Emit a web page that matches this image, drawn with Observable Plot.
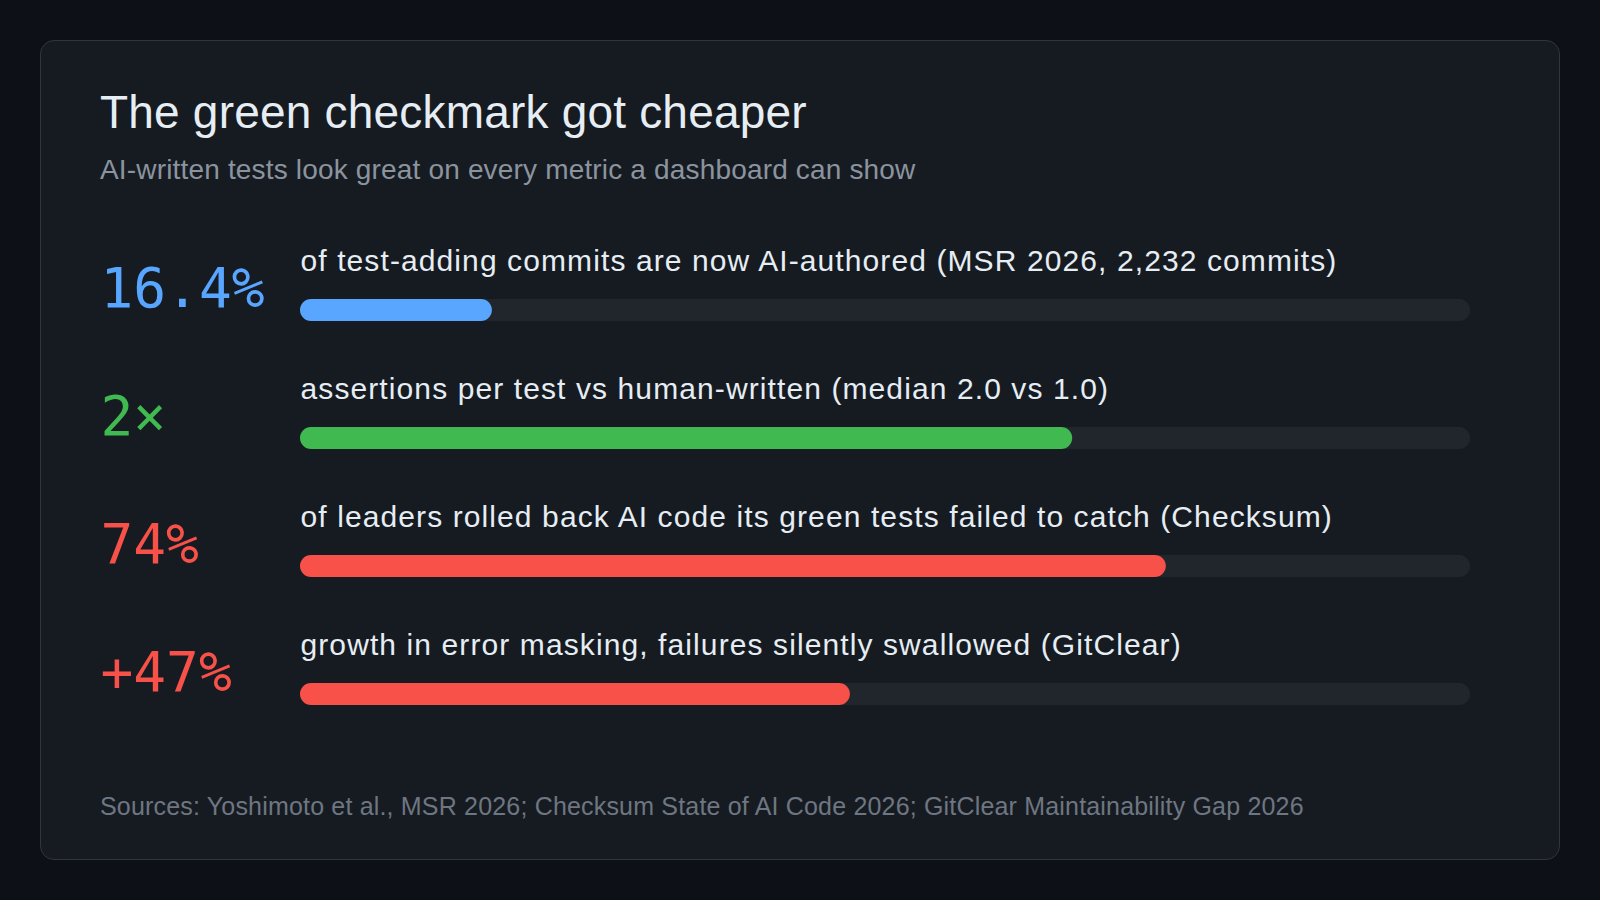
<!DOCTYPE html>
<html>
<head>
<meta charset="utf-8">
<script src="https://cdn.jsdelivr.net/npm/d3@7"></script>
<script src="https://cdn.jsdelivr.net/npm/@observablehq/plot@0.6"></script>
<style>
  html, body { margin: 0; padding: 0; width: 1600px; height: 900px; background: #0d1117; overflow: hidden; }
  body { position: relative; font-family: "Liberation Sans", Arial, Helvetica, sans-serif; }
  #card { position: absolute; left: 40px; top: 40px; width: 1518px; height: 818px; background: #161b22; border: 1.5px solid #30363d; border-radius: 14px; }
  .t { position: absolute; left: 100px; white-space: nowrap; line-height: 1; }
  #title { top: 89px; font-size: 46px; color: #e6edf3; letter-spacing: 0.2px; }
  #subtitle { top: 156px; font-size: 28px; color: #8b949e; letter-spacing: 0.17px; }
  #footer { top: 794px; font-size: 25px; color: #6e7681; letter-spacing: 0.18px; }
  #chart { position: absolute; left: 0; top: 220px; }
</style>
</head>
<body>
<div id="card"></div>
<div class="t" id="title">The green checkmark got cheaper</div>
<div class="t" id="subtitle">AI-written tests look great on every metric a dashboard can show</div>
<div id="chart"></div>
<div class="t" id="footer">Sources: Yoshimoto et al., MSR 2026; Checksum State of AI Code 2026; GitClear Maintainability Gap 2026</div>
<script>
const stats = ["16.4%", "2×", "74%", "+47%"];
const labels = [
  "of test-adding commits are now AI-authored (MSR 2026, 2,232 commits)",
  "assertions per test vs human-written (median 2.0 vs 1.0)",
  "of leaders rolled back AI code its green tests failed to catch (Checksum)",
  "growth in error masking, failures silently swallowed (GitClear)"
];
const fractions = [0.164, 0.66, 0.74, 0.47];
const colors = ["#58a6ff", "#3fb950", "#f85149", "#f85149"];

const rows = stats.map((s, i) => ({key: "r" + i, stat: s, label: labels[i], frac: fractions[i], color: colors[i]}));

const chart = Plot.plot({
  width: 1600,
  height: 538,
  marginLeft: 300,
  marginRight: 130,
  marginTop: 26,
  marginBottom: 0,
  x: {domain: [0, 1], axis: null},
  y: {domain: rows.map(d => d.key), padding: 0, axis: null},
  color: {type: "identity"},
  style: {background: "transparent", overflow: "visible"},
  marks: [
    Plot.barX(rows, {y: "key", x1: 0, x2: 1, fill: "#21262d", rx: 11, insetTop: 53, insetBottom: 53}),
    Plot.barX(rows, {y: "key", x1: 0, x2: "frac", fill: "color", rx: 11, insetTop: 53, insetBottom: 53}),
    Plot.text(rows, {y: "key", text: "stat", fill: "color", frameAnchor: "left", dx: -200, dy: -4, textAnchor: "start", lineAnchor: "bottom", fontSize: 54.5, fontFamily: "'DejaVu Sans Mono', monospace"}),
    Plot.text(rows, {y: "key", text: "label", fill: "#e6edf3", frameAnchor: "left", dy: -40, textAnchor: "start", lineAnchor: "bottom", fontSize: 30, fontFamily: "'Liberation Sans', Arial, Helvetica, sans-serif"})
  ]
});
chart.querySelectorAll('g[font-size="30"] text').forEach(t => t.style.letterSpacing = "1.1px");
document.getElementById("chart").appendChild(chart);
</script>
</body>
</html>
